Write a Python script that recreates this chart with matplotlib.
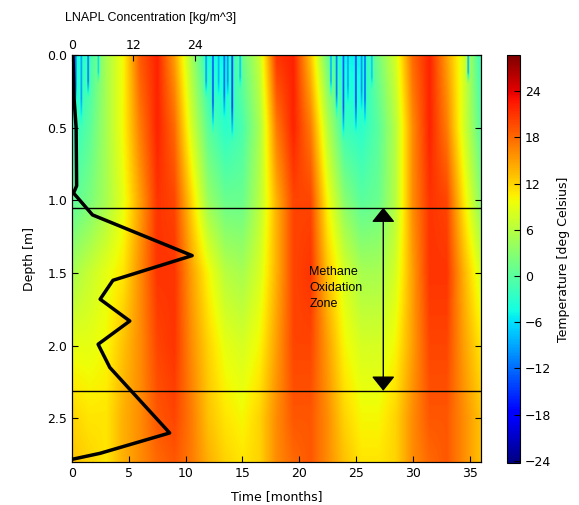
import numpy as np
import matplotlib
matplotlib.use('Agg')
import matplotlib.pyplot as plt

# temperature readings [deg C] on a coarse time x depth grid
times = [0, 1.5, 3, 4.5, 6, 7.5, 9, 10.5, 12, 13.5, 15, 16.5, 18,
         19.5, 21, 22.5, 24, 25.5, 27, 28.5, 30, 31.5, 33, 34.5, 36]
depths = [0.0, 0.5, 1.0, 1.5, 2.0, 2.5, 2.8]
temp_d00 = [-5, -2, 5, 10, 19, 22, 15, 5, -4, -5, 1, 7, 21, 22, 13, 1, -5, -5, 2, 8, 18, 22, 15, 8, -2]
temp_d05 = [-3, 0, 5, 10, 17, 22, 18, 8, 0, -3, -1, 5, 17, 22, 17, 6, -2, -3, 0, 6, 16, 22, 17, 8, 0]
temp_d10 = [0, 2, 5, 9, 15, 21, 20, 12, 4, 1, 1, 6, 14, 20, 20, 10, 3, 0, 1, 6, 16, 21, 20, 11, 3]
temp_d15 = [5, 7, 9, 11, 16, 21, 21, 15, 10, 6, 5, 8, 14, 20, 21, 13, 8, 5, 5, 8, 15, 21, 21, 14, 8]
temp_d20 = [9, 9, 10, 13, 16, 20, 21, 16, 12, 9, 8, 10, 15, 20, 20, 15, 10, 8, 8, 10, 15, 20, 20, 15, 11]
temp_d25 = [12, 11, 11, 14, 16, 19, 20, 17, 13, 11, 10, 12, 16, 19, 19, 16, 12, 10, 10, 12, 16, 19, 19, 16, 13]
temp_d28 = [13, 12, 11, 14, 16, 18, 19, 17, 14, 12, 11, 12, 16, 18, 19, 16, 13, 11, 11, 12, 16, 18, 19, 16, 13]

# cold streaks near the surface during winter: time, temperature, how deep they reach
streak_t = [0.3, 0.8, 1.4, 2.3, 11.8, 12.4, 12.9, 13.4, 13.7, 14.1, 14.8,
            22.8, 23.3, 23.9, 24.3, 25.0, 25.5, 25.8, 26.4, 34.9]
streak_T = [-12, -9, -11, -6, -9, -13, -8, -12, -10, -14, -7,
            -8, -11, -13, -9, -14, -10, -12, -7, -8]
streak_d = [0.35, 0.5, 0.3, 0.2, 0.3, 0.55, 0.3, 0.45, 0.3, 0.6, 0.25,
            0.3, 0.45, 0.6, 0.35, 0.55, 0.4, 0.5, 0.25, 0.2]

# LNAPL concentration profile
lnapl_depth = [0.0, 0.3, 0.5, 0.9, 0.95, 1.1, 1.38, 1.55, 1.68, 1.83, 1.99, 2.15, 2.6, 2.74, 2.78]
lnapl_conc = [0.2, 0.4, 0.8, 0.9, 0.3, 4.0, 23.5, 8.0, 5.5, 11.3, 5.1, 7.4, 19.1, 5.5, 0.2]

zone_top = 1.05
zone_bottom = 2.31

# build a fine grid from the readings
coarse = np.array([temp_d00, temp_d05, temp_d10, temp_d15, temp_d20, temp_d25, temp_d28], float)
t_fine = np.linspace(0, 36, 721)
d_fine = np.linspace(0, 2.8, 281)
rows = np.array([np.interp(t_fine, times, r) for r in coarse])
field = np.array([[np.interp(d, depths, rows[:, j]) for j in range(len(t_fine))] for d in d_fine])

for st, sT, sd in zip(streak_t, streak_T, streak_d):
    cols = np.abs(t_fine - st) < 0.06
    for i, d in enumerate(d_fine):
        if d > sd:
            break
        w = min(1.0, 2.5 * (1 - d / sd))
        field[i, cols] = np.minimum(field[i, cols], sT * w + field[i, cols] * (1 - w))

fig = plt.figure(figsize=(5.79, 5.05), dpi=100)
ax = fig.add_axes([0.1244, 0.0851, 0.7063, 0.806])
cax = fig.add_axes([0.8756, 0.083, 0.0225, 0.808])

im = ax.imshow(field, extent=[0, 36, 2.8, 0], aspect='auto', cmap='jet',
               vmin=-24.3, vmax=28.7, interpolation='bilinear')
ax.axhline(zone_top, color='k', lw=1)
ax.axhline(zone_bottom, color='k', lw=1)
ax.annotate('', xy=(27.4, zone_top), xytext=(27.4, zone_bottom),
            arrowprops=dict(arrowstyle='<|-|>,head_length=0.5,head_width=0.4',
                            color='k', lw=1, mutation_scale=18, shrinkA=0, shrinkB=0))
ax.text(20.9, 1.60, 'Methane\nOxidation\nZone', fontsize=9, family='Liberation Sans',
        ha='left', va='center', linespacing=1.45)

ax.set_xlim(0, 36)
ax.set_ylim(2.8, 0)
ax.set_xticks([0, 5, 10, 15, 20, 25, 30, 35])
ax.set_yticks([0.0, 0.5, 1.0, 1.5, 2.0, 2.5])
ax.set_yticklabels(['0.0', '0.5', '1.0', '1.5', '2.0', '2.5'])
ax.tick_params(direction='in', labelsize=9, right=True, top=False, length=4)
ax.set_xlabel('Time [months]', fontsize=9, labelpad=7)
ax.set_ylabel('Depth [m]', fontsize=9, labelpad=8)

ax2 = ax.twiny()
ax2.plot(lnapl_conc, lnapl_depth, color='k', lw=2.5)
ax2.set_xlim(0, 80)
ax2.set_ylim(2.8, 0)
ax2.set_xticks([0, 12, 24])
ax2.tick_params(direction='in', labelsize=9, length=4, pad=2)

cb = fig.colorbar(im, cax=cax)
cb.set_ticks([-24, -18, -12, -6, 0, 6, 12, 18, 24])
cb.ax.tick_params(direction='in', labelsize=9, length=4)
cb.set_label('Temperature [deg Celsius]', fontsize=9, labelpad=4)

fig.text(65 / 579, 1 - 18 / 505, 'LNAPL Concentration [kg/m^3]', fontsize=9,
         family='Liberation Sans', ha='left', va='center')

plt.savefig('out.png', dpi=100)
